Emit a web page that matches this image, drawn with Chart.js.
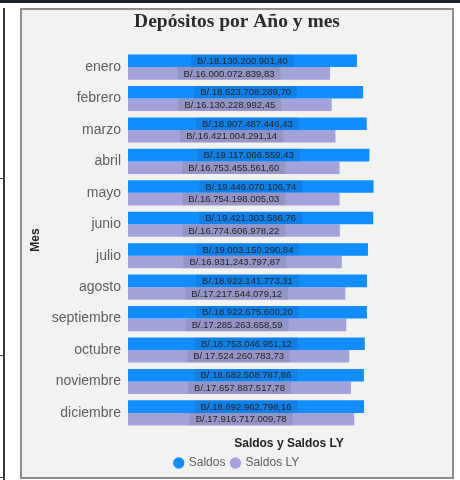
<!DOCTYPE html>
<html>
<head>
<meta charset="utf-8">
<script src="https://cdn.jsdelivr.net/npm/chart.js@4/dist/chart.umd.min.js"></script>
<style>
  html, body { margin: 0; padding: 0; background: #ffffff; width: 460px; height: 480px; overflow: hidden; }
  .topbar { position: absolute; left: 0; top: 0; width: 460px; height: 3px; background: #1b1f26; }
  .leftline { position: absolute; left: 3px; top: 8px; width: 2px; height: 472px; background: #3a3a3a; }
  .hline { position: absolute; left: 0; width: 4px; height: 1px; background: #3a3a3a; }
  .panel { position: absolute; left: 20px; top: 8px; width: 430px; height: 467px;
           background: #f2f2f2; border: 2px solid #8c8c8c; }
  .wrap { position: absolute; left: 22px; top: 10px; width: 430px; height: 473px; }
</style>
</head>
<body>
<div class="topbar"></div>
<div class="leftline"></div>
<div class="hline" style="top:178px"></div>
<div class="hline" style="top:355px"></div>
<div class="hline" style="top:477px"></div>
<div class="panel"></div>
<div class="wrap"><canvas id="c" width="430" height="473"></canvas></div>
<script>
// Months shown on the category axis
const meses = ['enero','febrero','marzo','abril','mayo','junio','julio','agosto','septiembre','octubre','noviembre','diciembre'];
// Balances for the current year
const saldos = [18130200901.40, 18623708289.70, 18907487446.43, 19117066559.43, 19446070106.74, 19421303586.76,
                19003150290.84, 18922141773.31, 18922675600.20, 18753046951.12, 18682508787.86, 18692962798.16];
// Balances for last year
const saldosLY = [16000072839.83, 16130228992.45, 16421004291.14, 16753455561.60, 16754198005.03, 16774606978.22,
                  16931243797.87, 17217544079.12, 17285263658.59, 17524260783.73, 17657887517.78, 17916717009.78];

// "B/.18.130.200.901,40" style currency text
function fmtBalboa(v) {
  const parts = v.toFixed(2).split('.');
  const ent = parts[0].replace(/\B(?=(\d{3})+(?!\d))/g, '.');
  return 'B/.' + ent + ',' + parts[1];
}

// Value labels centred on each bar, over a faint dark box
const etiquetas = {
  id: 'etiquetas',
  afterDatasetsDraw(chart) {
    const ctx = chart.ctx;
    ctx.save();
    ctx.font = '9.5px "Liberation Sans", Arial, sans-serif';
    ctx.textAlign = 'center';
    ctx.textBaseline = 'middle';
    chart.data.datasets.forEach((ds, i) => {
      const meta = chart.getDatasetMeta(i);
      meta.data.forEach((bar, j) => {
        const txt = fmtBalboa(ds.data[j]);
        const cx = (bar.base + bar.x) / 2;
        const w = ctx.measureText(txt).width + 12;
        const h = bar.height;
        ctx.fillStyle = 'rgba(0,0,0,0.09)';
        ctx.fillRect(cx - w / 2, bar.y - h / 2, w, h);
        ctx.fillStyle = '#252423';
        ctx.fillText(txt, cx, bar.y + 0.5);
      });
    });
    ctx.restore();
  }
};

new Chart(document.getElementById('c'), {
  type: 'bar',
  data: {
    labels: meses,
    datasets: [
      { label: 'Saldos', data: saldos, backgroundColor: '#118dff', borderWidth: 0 },
      { label: 'Saldos LY', data: saldosLY, backgroundColor: '#a3a3da', borderWidth: 0 }
    ]
  },
  options: {
    indexAxis: 'y',
    responsive: false,
    animation: false,
    devicePixelRatio: 1,
    layout: { padding: { left: 2, right: 2, top: 0, bottom: 4 } },
    datasets: { bar: { categoryPercentage: 0.8, barPercentage: 1.0 } },
    scales: {
      x: {
        min: 0,
        max: 25500000000,
        grid: { display: false, drawTicks: false },
        border: { display: false },
        ticks: { display: false },
        title: { display: true, text: 'Saldos y Saldos LY', color: '#252423',
                 font: { family: '"Liberation Sans", Arial, sans-serif', size: 12, weight: 'bold' }, padding: { top: 8, bottom: 0 } }
      },
      y: {
        grid: { display: false, drawTicks: false },
        border: { display: false },
        ticks: { color: '#605e5c', padding: 7, font: { family: '"Liberation Sans", Arial, sans-serif', size: 14 } },
        title: { display: true, text: 'Mes', color: '#252423',
                 font: { family: '"Liberation Sans", Arial, sans-serif', size: 12, weight: 'bold' } },
        afterFit(scale) { scale.width = 104; }
      }
    },
    plugins: {
      title: {
        display: true,
        text: 'Depósitos por Año y mes',
        color: '#2b2b2b',
        font: { family: '"Liberation Serif", "Times New Roman", serif', size: 19.5, weight: 'bold' },
        padding: { top: 0, bottom: 18 }
      },
      legend: {
        position: 'bottom',
        labels: { usePointStyle: true, pointStyle: 'circle', boxWidth: 8, boxHeight: 8, padding: 6,
                  color: '#605e5c', font: { family: '"Liberation Sans", Arial, sans-serif', size: 12 } }
      },
      tooltip: { enabled: false }
    }
  },
  plugins: [etiquetas]
});
</script>
</body>
</html>
